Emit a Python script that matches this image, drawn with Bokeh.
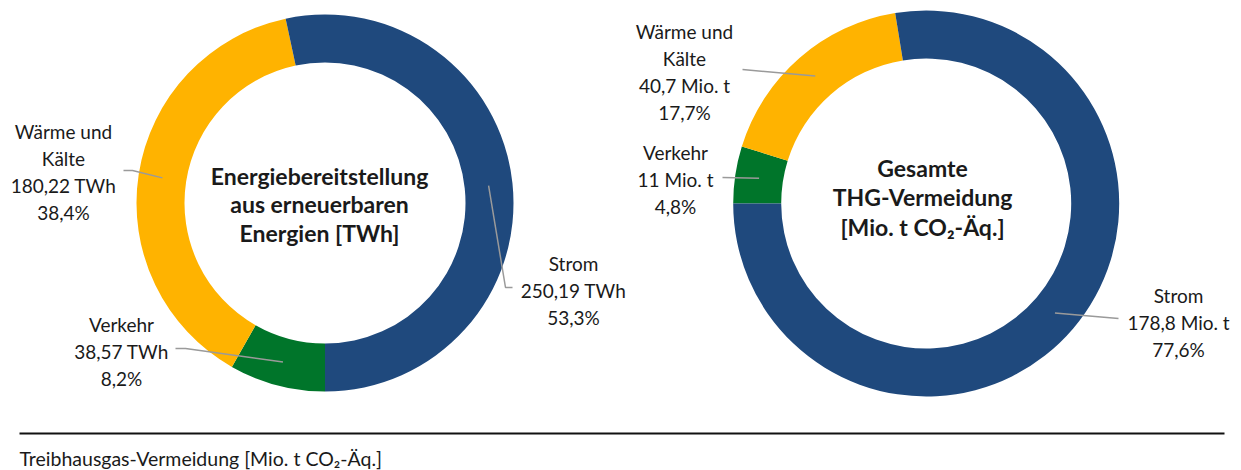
import math
from bokeh.plotting import figure
from bokeh.models import Range1d
from bokeh.core.properties import value
from bokeh.embed import file_html
from bokeh.resources import INLINE

# ---------------- data ----------------
categories = ["Verkehr", "Wärme und Kälte", "Strom"]
energy_values = [38.57, 180.22, 250.19]          # TWh
energy_pct = [8.2, 38.4, 53.3]
ghg_values = [11.0, 40.7, 178.8]                  # Mio. t CO2-Äq.
ghg_pct = [4.8, 17.7, 77.6]
energy_unit = "TWh"
ghg_unit = "Mio. t"
energy_title = ["Energiebereitstellung", "aus erneuerbaren", "Energien [TWh]"]
ghg_title = ["Gesamte", "THG-Vermeidung", "[Mio. t CO\u2082-Äq.]"]
footer = "Treibhausgas-Vermeidung [Mio. t CO\u2082-Äq.]"

colors = {"Strom": "#1F497D", "Verkehr": "#00752A", "Wärme und Kälte": "#FFB300"}

W, H = 1241, 470
FONT = "Lato"
TXT = "#1a1a1a"


def px(x):
    return x


def py(y):
    return H - y


p = figure(width=W, height=H, output_backend="svg", toolbar_location=None,
           x_range=Range1d(0, W), y_range=Range1d(0, H), min_border=0)
p.axis.visible = False
p.grid.visible = False
p.outline_line_color = None
p.background_fill_color = "white"


def fmt(v):
    return ("%g" % v).replace(".", ",")


def fmt2(v):
    return ("%.2f" % v).replace(".", ",")


def donut(cx, cy, r_in, r_out, values, first_angle_deg):
    """Slices drawn clockwise from first_angle (clockwise from 12 o'clock)."""
    total = float(sum(values))
    mids = []
    a = first_angle_deg
    for cat, v in zip(categories, values):
        span = v / total * 360.0
        a1, a2 = a, a + span
        start = math.radians(90 - a2)
        end = math.radians(90 - a1)
        p.annular_wedge(x=[px(cx)], y=[py(cy)], inner_radius=r_in, outer_radius=r_out,
                        start_angle=[start], end_angle=[end],
                        fill_color=colors[cat], line_color=None)
        mids.append(math.radians(90 - (a1 + a2) / 2))
        a = a2
    rm = (r_in + r_out) / 2
    return [(cx + rm * math.cos(m), cy - rm * math.sin(m)) for m in mids]


def label(lines, cx, y0, step=27, size="19px", bold=False):
    for i, t in enumerate(lines):
        p.text(x=[px(cx)], y=[py(y0 + i * step)], text=[t],
               text_font=value(FONT), text_font_size=size,
               text_font_style="bold" if bold else "normal",
               text_align="center", text_baseline="middle", text_color=TXT)


def leader(points):
    p.line(x=[px(a) for a, b in points], y=[py(b) for a, b in points],
           line_color="#9a9a9a", line_width=1.5)


# ---------------- left donut ----------------
L = donut(324.5, 202.5, 140.5, 188.5, energy_values, 180)
lv, lw, ls = L
label(["Verkehr", fmt2(energy_values[0]) + " " + energy_unit, fmt(energy_pct[0]) + "%"], 121, 324)
leader([(175, 348), (185, 348), lv])
label(["Wärme und", "Kälte", fmt2(energy_values[1]) + " " + energy_unit, fmt(energy_pct[1]) + "%"], 63, 131)
leader([(123, 170), (132, 170), lw])
label(["Strom", fmt2(energy_values[2]) + " " + energy_unit, fmt(energy_pct[2]) + "%"], 573, 263)
leader([ls, (505, 287), (512, 287)])
label(energy_title, 319, 175, step=28.5, size="23px", bold=True)

# ---------------- right donut ----------------
R = donut(925.7, 203, 145, 193, ghg_values, 270)
rv, rw, rs = R
label(["Verkehr", fmt(ghg_values[0]) + " " + ghg_unit, fmt(ghg_pct[0]) + "%"], 675, 152)
leader([(722, 177), rv])
label(["Wärme und", "Kälte", fmt(ghg_values[1]) + " " + ghg_unit, fmt(ghg_pct[1]) + "%"], 684, 31)
leader([(742, 69), rw])
label(["Strom", fmt(ghg_values[2]) + " " + ghg_unit, fmt(ghg_pct[2]) + "%"], 1178, 295)
leader([rs, (1083, 315), (1118, 318)])
label(ghg_title, 922, 167, step=29.5, size="23px", bold=True)

# ---------------- footer ----------------
p.line(x=[px(19), px(1224)], y=[py(433), py(433)], line_color="#111111", line_width=2)
p.text(x=[px(19)], y=[py(458)], text=[footer], text_font=value(FONT), text_font_size="19.5px",
       text_align="left", text_baseline="middle", text_color=TXT)

open("out.html", "w").write(file_html(p, INLINE))
